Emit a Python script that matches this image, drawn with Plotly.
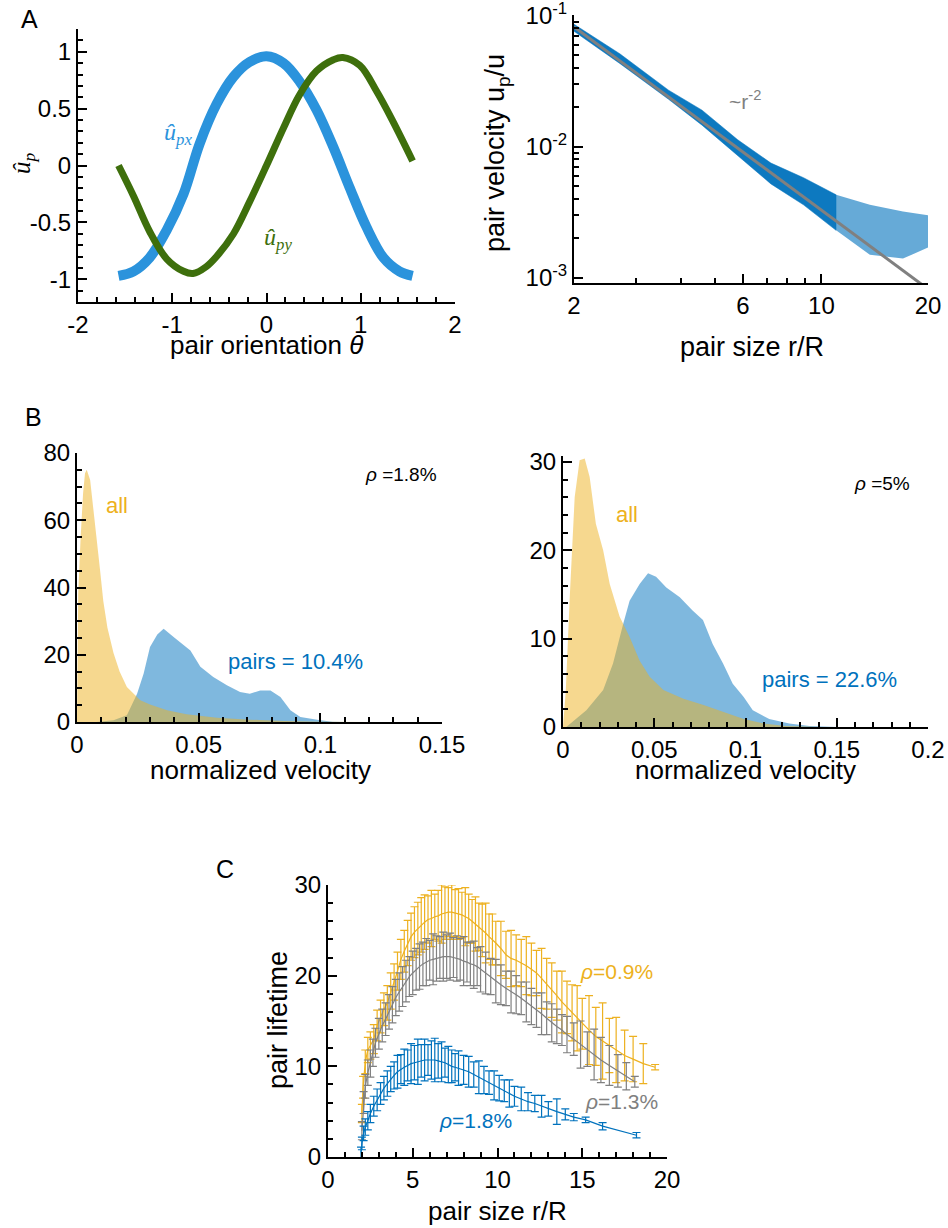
import plotly.graph_objects as go

W, H = 948, 1228

# ---------------- Panel A (left): pair velocity components vs orientation
theta_px = [-1.57, -1.41, -1.24, -1.06, -0.88, -0.71, -0.53, -0.35, -0.18, 0.0,
            0.18, 0.35, 0.53, 0.71, 0.88, 1.06, 1.24, 1.41, 1.55]
upx = [-0.97, -0.93, -0.81, -0.57, -0.25, 0.19, 0.54, 0.78, 0.91, 0.96,
       0.90, 0.74, 0.49, 0.16, -0.19, -0.54, -0.81, -0.93, -0.97]
theta_py = [-1.57, -1.41, -1.24, -1.06, -0.88, -0.78, -0.64, -0.53, -0.35, -0.18, 0.0,
            0.18, 0.35, 0.53, 0.71, 0.81, 0.99, 1.17, 1.34, 1.55]
upy = [0.0, -0.27, -0.58, -0.82, -0.93, -0.95, -0.89, -0.80, -0.60, -0.32, 0.0,
       0.33, 0.62, 0.83, 0.93, 0.95, 0.88, 0.65, 0.39, 0.04]
theta_ticks = [-2, -1, 0, 1, 2]
theta_ticktext = ["-2", "-1", "0", "1", "2"]

# ---------------- Panel A (right): pair velocity vs pair size (log-log)
core_r = [2, 2.7, 3.7, 4.6, 5.8, 7.2, 8.9, 11]
core_hi = [0.086, 0.051, 0.027, 0.019, 0.0113, 0.0075, 0.0058, 0.0043]
core_lo = [0.076, 0.043, 0.023, 0.0146, 0.0086, 0.0052, 0.0036, 0.0023]
tail_r = [11, 13.7, 17, 20]
tail_hi = [0.0043, 0.0036, 0.0032, 0.0030]
tail_lo = [0.0023, 0.0015, 0.0014, 0.0017]
fit_r = [2, 20]
fit_u = [0.082, 0.00082]

# ---------------- Panel B (left): rho = 1.8%
bl_all_x = [0, 0.0005, 0.0015, 0.0025, 0.0033, 0.004, 0.0054, 0.0067, 0.0081, 0.0095, 0.0108,
            0.0125, 0.015, 0.0175, 0.0205, 0.026, 0.030, 0.037, 0.045, 0.0575, 0.071, 0.085, 0.1, 0.12]
bl_all_y = [0, 38, 55, 68, 74, 75, 72, 64, 54, 45, 36,
            28, 20.5, 15, 10.4, 6.5, 5.2, 3.5, 2.3, 1.3, 0.7, 0.3, 0.1, 0]
bl_pair_x = [0.008, 0.015, 0.0205, 0.0247, 0.0274, 0.030, 0.033, 0.0356, 0.0397, 0.043, 0.0466,
             0.0507, 0.056, 0.0616, 0.067, 0.071, 0.0753, 0.0795, 0.0836, 0.0877, 0.0918, 0.1, 0.105, 0.11]
bl_pair_y = [0, 0.5, 2, 8.4, 14.4, 22.3, 26, 27.7, 25.3, 23.3, 21.3,
             16.4, 13.4, 10.9, 8.9, 8.4, 9.4, 9.4, 7.4, 3.5, 1.5, 0.5, 0.1, 0]

# ---------------- Panel B (right): rho = 5%
br_all_x = [0, 0.0015, 0.0037, 0.0064, 0.0091, 0.0119, 0.0146, 0.018, 0.022, 0.0256, 0.031,
            0.0365, 0.042, 0.0475, 0.055, 0.066, 0.077, 0.088, 0.099, 0.11, 0.122, 0.14]
br_all_y = [0, 4, 14.7, 26, 30.2, 30.4, 28.3, 23, 20, 16.2, 12.5,
            10.2, 7.5, 5.7, 4.2, 3.2, 2.5, 1.7, 0.9, 0.4, 0.1, 0]
br_pair_x = [0.0018, 0.0128, 0.022, 0.0274, 0.033, 0.0365, 0.042, 0.0466, 0.051, 0.0566, 0.064,
             0.071, 0.0767, 0.082, 0.0877, 0.093, 0.099, 0.104, 0.113, 0.124, 0.135, 0.15]
br_pair_y = [0, 1.9, 4.2, 7.2, 11.7, 14.3, 16.2, 17.4, 17, 15.8, 14.7,
             13.2, 12.1, 9.4, 7.2, 4.9, 3.4, 1.9, 0.9, 0.4, 0.1, 0]

# ---------------- Panel C: pair lifetime vs pair size
c09_x = [2.0, 2.07, 2.2, 2.35, 2.5, 2.7, 2.9, 3.1, 3.3, 3.5,
         3.7, 3.9, 4.1, 4.3, 4.5, 4.7, 4.9, 5.1, 5.3, 5.5,
         5.7, 5.9, 6.1, 6.3, 6.5, 6.7, 6.9, 7.1, 7.3, 7.5,
         7.7, 7.9, 8.1, 8.3, 8.5, 8.7, 8.9, 9.1, 9.3, 9.5,
         9.7, 9.9, 10.2, 10.5, 10.8, 11.1, 11.4, 11.7, 12.0, 12.3,
         12.6, 12.9, 13.2, 13.5, 13.8, 14.1, 14.4, 14.7, 15.0, 15.4,
         15.8, 16.2, 16.6, 17.0, 17.5, 18.0, 18.6, 19.3]
c09_y = [4.8, 7.7, 10.5, 11.8, 12.3, 13.0, 14.5, 15.5, 16.3, 17.0,
         18.3, 19.3, 20.5, 21.8, 22.7, 23.6, 24.3, 24.8, 25.2, 25.6,
         25.9, 26.2, 26.3, 26.5, 26.6, 26.8, 26.9, 27.0, 27.0, 26.9,
         26.8, 26.7, 26.5, 26.3, 26.0, 25.7, 25.4, 25.0, 24.7, 24.3,
         24.0, 23.6, 23.0, 22.3, 21.9, 21.7, 21.4, 21.1, 20.7, 20.3,
         19.7, 19.1, 18.4, 17.8, 17.1, 16.5, 15.9, 15.3, 14.7, 14.0,
         13.3, 12.8, 12.3, 11.8, 11.2, 10.8, 10.3, 9.9]
c09_e = [1.0, 1.2, 1.3, 1.4, 1.5, 1.6, 1.7, 1.8, 1.8, 1.9,
         2.0, 2.0, 2.1, 2.2, 2.3, 2.5, 2.6, 2.8, 2.9, 3.0,
         3.0, 2.6, 3.1, 2.5, 2.8, 3.2, 2.9, 2.7, 3.0, 2.6,
         2.8, 2.5, 3.2, 2.7, 2.4, 3.0, 2.6, 2.9, 3.3, 2.5,
         2.8, 2.4, 3.0, 2.6, 3.1, 2.8, 2.6, 3.2, 2.9, 2.5,
         3.3, 2.8, 3.0, 2.7, 3.4, 2.9, 3.1, 3.6, 2.8, 3.8,
         3.2, 4.2, 3.0, 3.6, 2.8, 2.5, 2.2, 0.3]

c13_x = [2.0, 2.1, 2.2, 2.35, 2.5, 2.65, 2.8, 3.0, 3.2, 3.4,
         3.6, 3.8, 4.0, 4.2, 4.4, 4.6, 4.8, 5.0, 5.2, 5.4,
         5.6, 5.8, 6.0, 6.2, 6.4, 6.6, 6.8, 7.0, 7.2, 7.4,
         7.6, 7.8, 8.0, 8.2, 8.4, 8.6, 8.8, 9.0, 9.3, 9.6,
         9.9, 10.2, 10.5, 10.8, 11.1, 11.4, 11.7, 12.0, 12.3, 12.6,
         12.9, 13.2, 13.5, 13.8, 14.1, 14.5, 14.9, 15.3, 15.7, 16.1,
         16.6, 17.1, 17.6, 18.1]
c13_y = [2.9, 6.0, 7.8, 9.3, 10.3, 11.5, 12.6, 13.6, 14.5, 15.2,
         16.0, 16.8, 17.6, 18.2, 18.8, 19.4, 19.9, 20.3, 20.7, 21.0,
         21.3, 21.5, 21.7, 21.8, 21.9, 22.0, 22.1, 22.1, 22.1, 22.0,
         21.9, 21.8, 21.6, 21.5, 21.3, 21.2, 21.0, 20.7, 20.3, 19.9,
         19.4, 19.0, 18.6, 18.2, 17.9, 17.5, 17.1, 16.6, 16.2, 15.8,
         15.3, 14.8, 14.4, 14.0, 13.5, 13.0, 12.4, 11.9, 11.3, 10.7,
         10.1, 9.5, 8.9, 8.3]
c13_e = [1.0, 1.2, 1.3, 1.4, 1.5, 1.5, 1.6, 1.7, 1.8, 1.8,
         1.9, 2.0, 2.0, 2.1, 2.2, 2.3, 2.2, 2.4, 2.3, 2.5,
         2.4, 2.6, 2.2, 2.8, 2.5, 2.3, 2.7, 2.4, 2.6, 2.2,
         2.5, 2.3, 2.7, 2.2, 2.4, 2.6, 2.1, 2.5, 2.3, 2.0,
         2.4, 2.2, 1.9, 2.3, 2.1, 1.8, 2.2, 2.0, 1.9, 2.3,
         1.8, 2.1, 1.9, 1.7, 2.0, 1.8, 2.6, 1.9, 2.8, 2.5,
         2.2, 1.8, 1.5, 0.6]

c18_x = [1.95, 2.0, 2.1, 2.2, 2.35, 2.5, 2.7, 2.9, 3.1, 3.3,
         3.5, 3.7, 3.9, 4.1, 4.3, 4.5, 4.7, 4.9, 5.1, 5.3,
         5.5, 5.7, 5.9, 6.1, 6.3, 6.5, 6.7, 6.9, 7.1, 7.3,
         7.5, 7.7, 8.0, 8.3, 8.6, 8.9, 9.2, 9.5, 9.8, 10.1,
         10.4, 10.7, 11.0, 11.4, 11.8, 12.2, 12.6, 13.0, 13.5, 14.0,
         14.5, 15.2, 16.2, 18.2]
c18_y = [0.5, 1.5, 2.6, 3.3, 4.0, 4.8, 5.6, 6.3, 7.0, 7.6,
         8.1, 8.6, 9.0, 9.4, 9.7, 9.9, 10.1, 10.3, 10.4, 10.5,
         10.6, 10.7, 10.7, 10.7, 10.7, 10.6, 10.5, 10.4, 10.2, 10.0,
         9.9, 9.8, 9.6, 9.4, 9.1, 8.8, 8.5, 8.2, 7.9, 7.6,
         7.3, 7.0, 6.7, 6.4, 6.1, 5.9, 5.6, 5.3, 5.0, 4.7,
         4.4, 4.1, 3.4, 2.4]
c18_e = [0.6, 0.7, 0.8, 0.9, 1.0, 1.0, 1.1, 1.2, 1.2, 1.3,
         1.4, 1.4, 1.5, 1.8, 1.6, 2.0, 1.7, 2.2, 1.9, 2.5,
         1.8, 2.3, 1.7, 2.1, 2.4, 1.9, 2.2, 1.6, 2.0, 1.8,
         1.5, 1.9, 1.6, 1.7, 1.4, 1.8, 1.5, 1.3, 1.6, 1.4,
         1.2, 1.5, 1.1, 1.3, 1.0, 0.9, 1.2, 0.8, 1.4, 0.6,
         0.4, 0.3, 0.4, 0.3]

# ---------------- styles
BLUE_A = "#2b93dc"
GREEN_A = "#3e6f0c"
MBLUE = "rgb(0,114,189)"
MYEL = "rgb(237,177,32)"
MGRAY = "rgb(128,128,128)"
SANS = "Liberation Sans, Arial, sans-serif"
SERIF = "Liberation Serif, serif"
TICKFONT = dict(family=SANS, size=24, color="black")


def px2x(p):
    return p / W


def px2y(p):
    return 1 - p / H


fig = go.Figure()

# A left
fig.add_trace(go.Scatter(x=theta_px, y=upx, mode="lines", line=dict(color=BLUE_A, width=10, shape="spline"),
                         xaxis="x", yaxis="y", showlegend=False))
fig.add_trace(go.Scatter(x=theta_py, y=upy, mode="lines", line=dict(color=GREEN_A, width=7, shape="spline"),
                         xaxis="x", yaxis="y", showlegend=False))

# A right
fig.add_trace(go.Scatter(x=core_r + core_r[::-1], y=core_hi + core_lo[::-1], mode="lines", fill="toself",
                         fillcolor="rgba(0,114,189,0.95)", line=dict(width=0.5, color=MBLUE),
                         xaxis="x2", yaxis="y2", showlegend=False))
fig.add_trace(go.Scatter(x=tail_r + tail_r[::-1], y=tail_hi + tail_lo[::-1], mode="lines", fill="toself",
                         fillcolor="rgba(0,114,189,0.6)", line=dict(width=0),
                         xaxis="x2", yaxis="y2", showlegend=False))
fig.add_trace(go.Scatter(x=fit_r, y=fit_u, mode="lines", line=dict(color=MGRAY, width=3),
                         xaxis="x2", yaxis="y2", showlegend=False))

# B left
fig.add_trace(go.Scatter(x=bl_pair_x, y=bl_pair_y, mode="lines", fill="tozeroy",
                         fillcolor="rgba(0,114,189,0.5)", line=dict(width=0),
                         xaxis="x3", yaxis="y3", showlegend=False))
fig.add_trace(go.Scatter(x=bl_all_x, y=bl_all_y, mode="lines", fill="tozeroy",
                         fillcolor="rgba(237,177,32,0.5)", line=dict(width=0),
                         xaxis="x3", yaxis="y3", showlegend=False))
# B right
fig.add_trace(go.Scatter(x=br_pair_x, y=br_pair_y, mode="lines", fill="tozeroy",
                         fillcolor="rgba(0,114,189,0.5)", line=dict(width=0),
                         xaxis="x4", yaxis="y4", showlegend=False))
fig.add_trace(go.Scatter(x=br_all_x, y=br_all_y, mode="lines", fill="tozeroy",
                         fillcolor="rgba(237,177,32,0.5)", line=dict(width=0),
                         xaxis="x4", yaxis="y4", showlegend=False))

# C
for xs, ys, es, col in [(c09_x, c09_y, c09_e, MYEL), (c13_x, c13_y, c13_e, MGRAY), (c18_x, c18_y, c18_e, MBLUE)]:
    fig.add_trace(go.Scatter(x=xs, y=ys, mode="lines", line=dict(color=col, width=1.2),
                             error_y=dict(type="data", array=es, color=col, thickness=1.2, width=4),
                             xaxis="x5", yaxis="y5", showlegend=False))


def axis(domain, rng, anchor, dtick=None, minor_dtick=None, **kw):
    d = dict(domain=domain, range=rng, anchor=anchor, showline=True, linecolor="black", linewidth=2,
             ticks="inside", ticklen=9, tickwidth=2, tickcolor="black", showgrid=False, zeroline=False,
             tickfont=TICKFONT, fixedrange=True, automargin=False, ticklabeloverflow="allow")
    if dtick is not None:
        d["dtick"] = dtick
        d["tick0"] = 0
    if minor_dtick is not None:
        d["minor"] = dict(dtick=minor_dtick, tick0=0, ticks="inside", ticklen=5, tickwidth=1.5,
                          tickcolor="black", showgrid=False)
    d.update(kw)
    return d


layout = dict(
    template="none",
    width=W, height=H, margin=dict(l=0, r=0, t=0, b=0, autoexpand=False),
    plot_bgcolor="white", paper_bgcolor="white", showlegend=False,
    xaxis=axis([px2x(78), px2x(455)], [-2, 2], "y", 1, 0.2, tickvals=theta_ticks, ticktext=theta_ticktext),
    yaxis=axis([px2y(302), px2y(29)], [-1.2, 1.2], "x", 0.5, 0.1, tickvals=[-1, -0.5, 0, 0.5, 1],
               ticktext=["-1", "-0.5", "0", "0.5", "1"]),
    xaxis2=axis([px2x(574), px2x(928)], [0.30103, 1.30103], "y2", type="log", tickvals=[2, 6, 10, 20],
                ticktext=["2", "6", "10", "20"],
                minor=dict(tickvals=[3, 4, 5, 7, 8, 9], ticks="inside", ticklen=5, tickwidth=1.5, tickcolor="black")),
    yaxis2=axis([px2y(283), px2y(15)], [-3.04, -0.995], "x2", type="log", tickvals=[0.001, 0.01, 0.1],
                ticktext=["10<sup>-3</sup>", "10<sup>-2</sup>", "10<sup>-1</sup>"],
                minor=dict(tickvals=[0.002, 0.003, 0.004, 0.005, 0.006, 0.007, 0.008, 0.009,
                                     0.02, 0.03, 0.04, 0.05, 0.06, 0.07, 0.08, 0.09],
                           ticks="inside", ticklen=5, tickwidth=1.5, tickcolor="black")),
    xaxis3=axis([px2x(77), px2x(442)], [0, 0.15], "y3", 0.05, 0.01,
                tickvals=[0, 0.05, 0.1, 0.15], ticktext=["0", "0.05", "0.1", "0.15"]),
    yaxis3=axis([px2y(722), px2y(453)], [0, 80], "x3", 20, 5),
    xaxis4=axis([px2x(563), px2x(928)], [0, 0.2], "y4", 0.05, 0.01,
                tickvals=[0, 0.05, 0.1, 0.15, 0.2], ticktext=["0", "0.05", "0.1", "0.15", "0.2"]),
    yaxis4=axis([px2y(727), px2y(456)], [0, 30.68], "x4", 10, 2),
    xaxis5=axis([px2x(328), px2x(667)], [0, 20], "y5", 5, 1),
    yaxis5=axis([px2y(1157), px2y(885)], [0, 30], "x5", 10, 2),
)
fig.update_layout(**layout)

ann = []


def paper_text(x, y, text, size=26, color="black", angle=0, family=SANS):
    ann.append(dict(x=px2x(x), y=px2y(y), xref="paper", yref="paper", text=text, showarrow=False,
                    font=dict(family=family, size=size, color=color), textangle=angle,
                    xanchor="center", yanchor="middle"))


def data_text(xr, yr, x, y, text, size=22, color="black", family=SANS):
    ann.append(dict(x=x, y=y, xref=xr, yref=yr, text=text, showarrow=False,
                    font=dict(family=family, size=size, color=color), xanchor="center", yanchor="middle"))


# panel letters
paper_text(29, 19, "A", size=25)
paper_text(33, 417, "B", size=25)
paper_text(225, 869, "C", size=25)

# axis titles
paper_text(266, 345, "pair orientation <i>θ</i>", size=26)
paper_text(24, 163, "<i>û</i><sub><i>p</i></sub>", size=25, angle=-90, family=SERIF)
paper_text(752, 347, "pair size r/R", size=27)
paper_text(497, 153, "pair velocity u<sub>p</sub>/u", size=27, angle=-90)
paper_text(260, 770, "normalized velocity", size=26)
paper_text(745, 770, "normalized velocity", size=26)
paper_text(497, 1211, "pair size r/R", size=26)
paper_text(278, 1020, "pair lifetime", size=27, angle=-90)

# in-plot labels
data_text("x", "y", -0.94, 0.28, "<i>û</i><sub><i>px</i></sub>", size=24, color=BLUE_A, family=SERIF)
data_text("x", "y", 0.12, -0.65, "<i>û</i><sub><i>py</i></sub>", size=24, color=GREEN_A, family=SERIF)
ann.append(dict(x=0.784, y=-1.64, xref="x2", yref="y2", text="~r<sup>-2</sup>", showarrow=False,
                font=dict(family=SANS, size=21, color=MGRAY), xanchor="center", yanchor="middle"))
data_text("x3", "y3", 0.133, 73.5, "<i>ρ</i> =1.8%", size=19)
data_text("x3", "y3", 0.0165, 64.5, "all", size=22, color=MYEL)
data_text("x3", "y3", 0.0898, 18.1, "pairs = 10.4%", size=22, color=MBLUE)
data_text("x4", "y4", 0.175, 27.6, "<i>ρ</i> =5%", size=19)
data_text("x4", "y4", 0.035, 24.1, "all", size=22, color=MYEL)
data_text("x4", "y4", 0.146, 5.4, "pairs = 22.6%", size=22, color=MBLUE)
data_text("x5", "y5", 17.0, 20.5, "<i>ρ</i>=0.9%", size=21, color=MYEL)
data_text("x5", "y5", 17.3, 6.1, "<i>ρ</i>=1.3%", size=21, color=MGRAY)
data_text("x5", "y5", 8.7, 4.0, "<i>ρ</i>=1.8%", size=21, color=MBLUE)

fig.update_layout(annotations=ann)
# remove the default page margin so the 948x1228 figure fills the window exactly
fig.write_html("out.html", config={"displayModeBar": False},
               post_script="document.body.style.margin='0px';document.body.style.overflow='hidden';")
